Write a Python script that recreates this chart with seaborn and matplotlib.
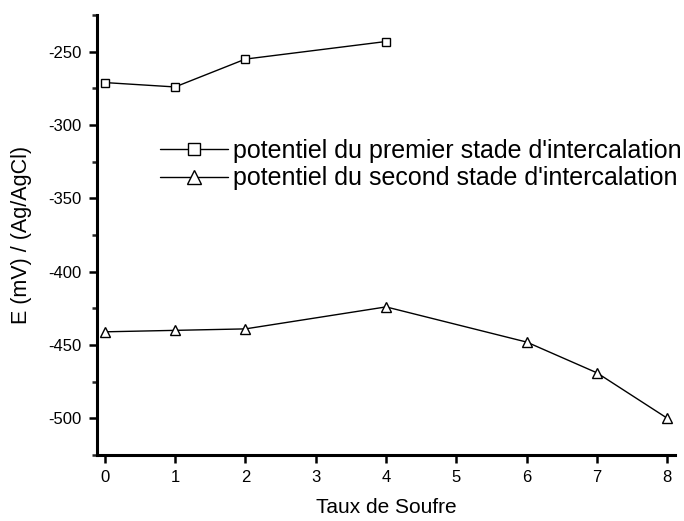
import matplotlib
matplotlib.use("Agg")
import matplotlib.pyplot as plt
import seaborn as sns
import pandas as pd
from matplotlib.ticker import MultipleLocator

sns.set_theme(style="ticks")
plt.rcParams['font.family'] = ['Liberation Sans', 'DejaVu Sans']
plt.rcParams['axes.unicode_minus'] = False
plt.rcParams['text.color'] = 'black'
plt.rcParams['axes.labelcolor'] = 'black'

x_first = [0, 1, 2, 4]
y_first = [-271, -274, -255, -243]
x_second = [0, 1, 2, 4, 6, 7, 8]
y_second = [-441, -440, -439, -424, -448, -469, -500]
label_first = "potentiel du premier stade d'intercalation"
label_second = "potentiel du second stade d'intercalation"
xticks = [0, 1, 2, 3, 4, 5, 6, 7, 8]
yticks = [-500, -450, -400, -350, -300, -250]

fig = plt.figure(figsize=(6.84, 5.21), dpi=100)
ax = fig.add_axes([0.1418, 0.1267, 0.987 - 0.1418, 0.971 - 0.1267])

df1 = pd.DataFrame({"x": x_first, "y": y_first})
df2 = pd.DataFrame({"x": x_second, "y": y_second})
sns.lineplot(data=df1, x="x", y="y", ax=ax, color="black", lw=1.0, marker="s",
             markersize=6.3, markerfacecolor="white", markeredgecolor="black",
             markeredgewidth=1.0, label=label_first)
sns.lineplot(data=df2, x="x", y="y", ax=ax, color="black", lw=1.0, marker="^",
             markersize=7.5, markerfacecolor="white", markeredgecolor="black",
             markeredgewidth=1.0, label=label_second)

ax.set_xlim(-0.11, 8.11)
ax.set_ylim(-525, -225)
ax.set_xticks(xticks)
ax.set_yticks(yticks)
ax.yaxis.set_minor_locator(MultipleLocator(25))
for s in ["top", "right"]:
    ax.spines[s].set_visible(False)
for s in ["left", "bottom"]:
    ax.spines[s].set_linewidth(2.2)
    ax.spines[s].set_color("black")
ax.tick_params(axis="both", which="major", direction="out", length=6, width=1.8,
               labelsize=12, colors="black", pad=5)
ax.tick_params(axis="y", which="minor", direction="out", length=3.5, width=1.8)

ax.set_xlabel("Taux de Soufre", fontsize=15, labelpad=9, color="black")
ax.set_ylabel("E (mV) / (Ag/AgCl)", fontsize=15.5, labelpad=12, color="black")

leg = ax.legend(loc="upper left", bbox_to_anchor=(0.109, 0.719), frameon=False,
                fontsize=18, handlelength=2.7, handletextpad=0.2, labelspacing=0.15,
                borderaxespad=0, borderpad=0, markerscale=1.3)
for t in leg.get_texts():
    t.set_color("black")

fig.savefig("out.png", dpi=100)
